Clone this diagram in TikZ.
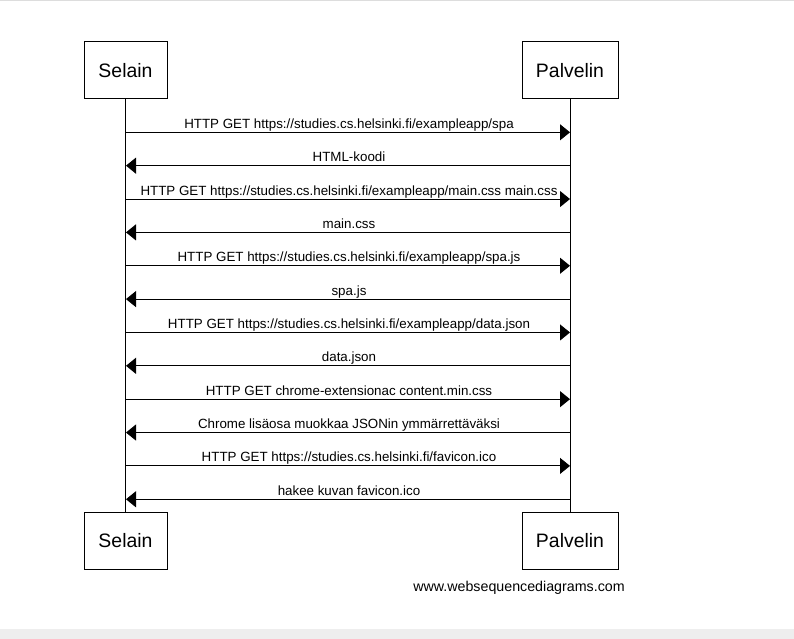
\documentclass[tikz,border=0pt]{standalone}
\usepackage{fontspec}
\setmainfont{Liberation Sans}
\usetikzlibrary{arrows.meta}
\definecolor{bandgray}{HTML}{EEEEEE}
\definecolor{linegray}{HTML}{DDDDDD}
\tikzset{
  actor/.style={draw=black, line width=1bp, fill=white, minimum height=57bp, inner sep=0pt, font=\fontsize{19.5}{22}\selectfont},
  life/.style={draw=black, line width=1bp},
  msg/.style={draw=black, line width=1bp, -{Triangle[length=10bp,width=16bp]}},
  msglabel/.style={anchor=base, inner sep=0pt, font=\fontsize{13.4}{15}\selectfont},
  wmtext/.style={anchor=center, inner sep=0pt, font=\fontsize{14.3}{16}\selectfont}
}
\begin{document}
\begin{tikzpicture}[x=1bp,y=-1bp]
\useasboundingbox (0,0) rectangle (794,639);
\fill[white] (0,0) rectangle (794,639);
\fill[bandgray] (0,629) rectangle (794,639);
\draw[linegray, line width=1bp] (0,0.5) -- (794,0.5);
% actors
\node[actor, minimum width=83bp] (s1) at (125.5,70.5) {Selain};
\node[actor, minimum width=96bp] (p1) at (570,70.5) {Palvelin};
\node[actor, minimum width=83bp] (s2) at (125.5,540.5) {Selain};
\node[actor, minimum width=96bp] (p2) at (570,540.5) {Palvelin};
% lifelines
\draw[life] (s1.south) -- (s2.north);
\draw[life] (p1.south) -- (p2.north);
% message anchor points
\foreach \i in {0,...,11}{
  \coordinate (sa\i) at (126,{132.3+33.36*\i});
  \coordinate (pa\i) at (570,{132.3+33.36*\i});
  \coordinate (la\i) at (349,{128.3+33.36*\i});
}
\draw[msg] (sa0) -- (pa0);
\node[msglabel] (m0) at (la0) {HTTP GET https://studies.cs.helsinki.fi/exampleapp/spa};
\draw[msg] (pa1) -- (sa1);
\node[msglabel] (m1) at (la1) {HTML-koodi};
\draw[msg] (sa2) -- (pa2);
\node[msglabel] (m2) at (la2) {HTTP GET https://studies.cs.helsinki.fi/exampleapp/main.css main.css};
\draw[msg] (pa3) -- (sa3);
\node[msglabel] (m3) at (la3) {main.css};
\draw[msg] (sa4) -- (pa4);
\node[msglabel] (m4) at (la4) {HTTP GET https://studies.cs.helsinki.fi/exampleapp/spa.js};
\draw[msg] (pa5) -- (sa5);
\node[msglabel] (m5) at (la5) {spa.js};
\draw[msg] (sa6) -- (pa6);
\node[msglabel] (m6) at (la6) {HTTP GET https://studies.cs.helsinki.fi/exampleapp/data.json};
\draw[msg] (pa7) -- (sa7);
\node[msglabel] (m7) at (la7) {data.json};
\draw[msg] (sa8) -- (pa8);
\node[msglabel] (m8) at (la8) {HTTP GET chrome-extensionac content.min.css};
\draw[msg] (pa9) -- (sa9);
\node[msglabel] (m9) at (la9) {Chrome lisäosa muokkaa JSONin ymmärrettäväksi};
\draw[msg] (sa10) -- (pa10);
\node[msglabel] (m10) at (la10) {HTTP GET https://studies.cs.helsinki.fi/favicon.ico};
\draw[msg] (pa11) -- (sa11);
\node[msglabel] (m11) at (la11) {hakee kuvan favicon.ico};
% watermark
\node[wmtext] (wm) at (519,587.5) {www.websequencediagrams.com};
\end{tikzpicture}
\end{document}
